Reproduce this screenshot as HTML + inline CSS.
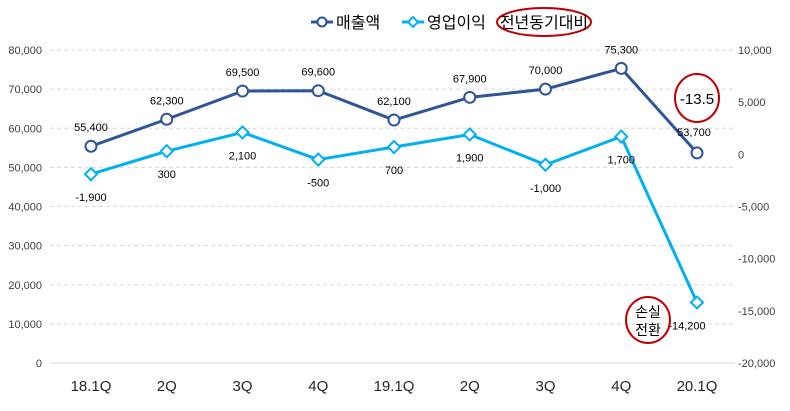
<!DOCTYPE html>
<html><head><meta charset="utf-8"><style>
body{margin:0;background:#fff;font-family:"Liberation Sans","Noto Sans CJK KR",sans-serif;}
svg text{font-family:"Liberation Sans","Noto Sans CJK KR",sans-serif;}
</style></head><body>
<svg id="c" width="790" height="406"></svg>
<script>
const categories=["18.1Q","2Q","3Q","4Q","19.1Q","2Q","3Q","4Q","20.1Q"];
const sales=[55400,62300,69500,69600,62100,67900,70000,75300,53700];
const profit=[-1900,300,2100,-500,700,1900,-1000,1700,-14200];
const leftTicks=[0,10000,20000,30000,40000,50000,60000,70000,80000];
const rightTicks=[-20000,-15000,-10000,-5000,0,5000,10000];
const NS="http://www.w3.org/2000/svg";
const svgEl=document.getElementById('c');
const topY=50,botY=363;
const yL=v=>botY-(v-0)/80000*(botY-topY);
const yR=v=>botY-(v+20000)/30000*(botY-topY);
const xC=i=>91+i*75.75;
function el(t,a,txt){const e=document.createElementNS(NS,t);for(const k in a)e.setAttribute(k,a[k]);if(txt!==undefined)e.textContent=txt;svgEl.appendChild(e);return e;}
const fmt=v=>v.toLocaleString('en-US');
leftTicks.forEach(v=>{
 if(v>0){const g=el('line',{x1:50,x2:735,y1:yL(v),y2:yL(v),stroke:'#d9d9d9','stroke-dasharray':'4,3'});
 
 }
 const t=el('text',{x:42,y:yL(v)+4,'text-anchor':'end','font-size':11,fill:'#404040'},fmt(v));
 
 
});
const ax=el('line',{x1:50,x2:735,y1:botY,y2:botY,stroke:'#d9d9d9'});


rightTicks.forEach(v=>{
 const t=el('text',{x:738,y:yR(v)+4,'font-size':11,fill:'#404040'},fmt(v));
 
 
});
categories.forEach((c,i)=>{
 const t=el('text',{x:xC(i),y:391,'text-anchor':'middle','font-size':15,fill:'#262626'},c);
 
 
});
const sl=el('polyline',{points:sales.map((v,i)=>xC(i)+','+yL(v)).join(' '),fill:'none',stroke:'#2f5597','stroke-width':3});


const pl=el('polyline',{points:profit.map((v,i)=>xC(i)+','+yR(v)).join(' '),fill:'none',stroke:'#00b0f0','stroke-width':3});


sales.forEach((v,i)=>{
 const m=el('circle',{cx:xC(i),cy:yL(v),r:5.5,fill:'#fff',stroke:'#2f5597','stroke-width':2});
 
 
 const lx=i===8?xC(i)-3:xC(i), ly=i===8?yL(v)-17:yL(v)-15;
 const t=el('text',{x:lx,y:ly,'text-anchor':'middle','font-size':11,fill:'#000'},fmt(v));
 
 
});
profit.forEach((v,i)=>{
 const x=xC(i),y=yR(v);
 const m=el('polygon',{points:`${x},${y-6} ${x+6},${y} ${x},${y+6} ${x-6},${y}`,fill:'#fff',stroke:'#00b0f0','stroke-width':2});
 
 
 const lx=i===8?x-10:x, ly=y+27;
 const t=el('text',{x:lx,y:ly,'text-anchor':'middle','font-size':11,fill:'#000'},fmt(v));
 
 
});
let l=el('line',{x1:311,x2:333,y1:22,y2:22,stroke:'#2f5597','stroke-width':3});


l=el('circle',{cx:322,cy:22,r:4.5,fill:'#fff',stroke:'#2f5597','stroke-width':2});


l=el('text',{x:336,y:28,'font-size':16,fill:'#000'},'매출액');


l=el('line',{x1:402,x2:424,y1:22,y2:22,stroke:'#00b0f0','stroke-width':3});


l=el('polygon',{points:'413,17 418,22 413,27 408,22',fill:'#fff',stroke:'#00b0f0','stroke-width':2});


l=el('text',{x:427,y:28,'font-size':16,fill:'#000'},'영업이익');


l=el('ellipse',{cx:544,cy:22,rx:47,ry:14,fill:'none',stroke:'#c00000','stroke-width':2});


l=el('text',{x:544,y:28,'text-anchor':'middle','font-size':16,fill:'#000'},'전년동기대비');


l=el('ellipse',{cx:697,cy:98,rx:22,ry:24,fill:'none',stroke:'#c00000','stroke-width':2});


l=el('text',{x:697,y:104,'text-anchor':'middle','font-size':15,fill:'#000'},'-13.5');


l=el('ellipse',{cx:648,cy:320,rx:22,ry:23,fill:'none',stroke:'#c00000','stroke-width':2});


l=el('text',{x:648,y:317,'text-anchor':'middle','font-size':14,fill:'#000'},'손실');


l=el('text',{x:648,y:335,'text-anchor':'middle','font-size':14,fill:'#000'},'전환');


</script>
</body></html>
